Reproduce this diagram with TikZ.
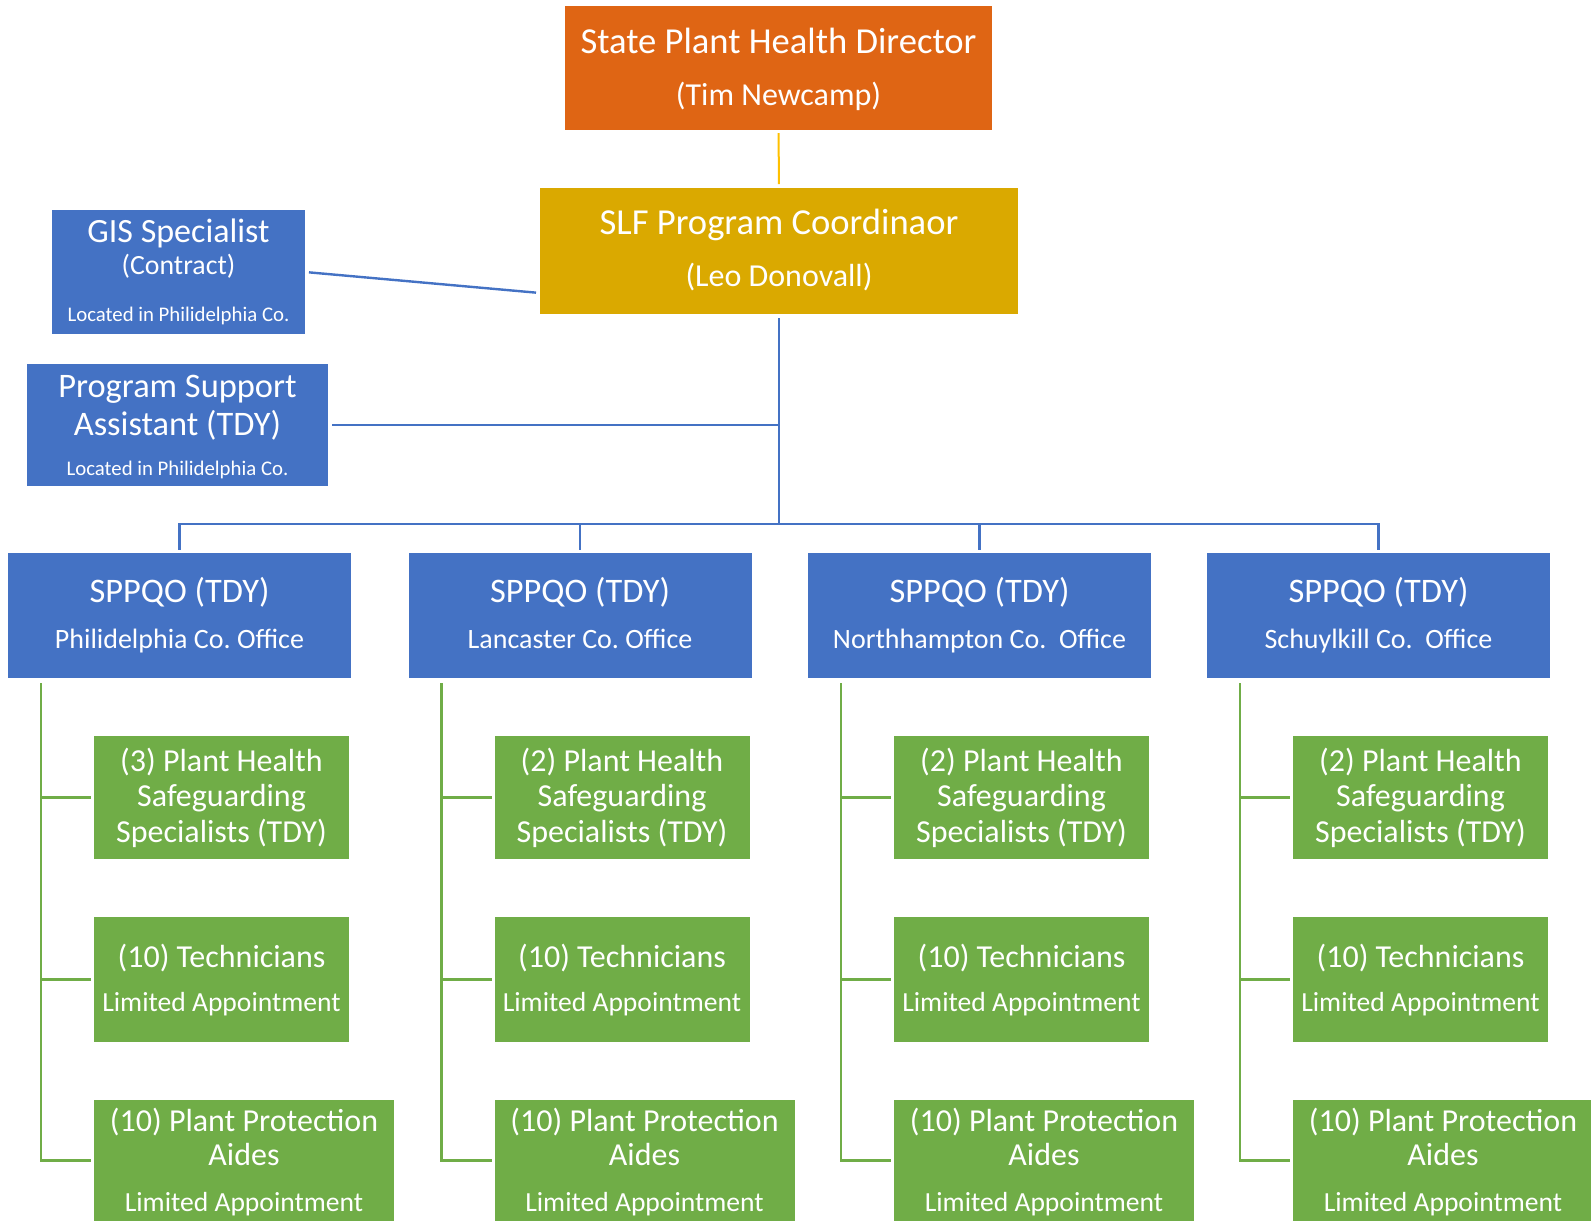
\documentclass[tikz,border=0pt]{standalone}
\usepackage{fontspec}
\setmainfont{Carlito}
\frenchspacing
\usetikzlibrary{positioning,calc}
\definecolor{dirorange}{HTML}{DF6514}
\definecolor{coordgold}{HTML}{DAA900}
\definecolor{lineyellow}{HTML}{FFC000}
\definecolor{officeblue}{HTML}{4472C4}
\definecolor{officegreen}{HTML}{70AD47}
\tikzset{
  box/.style={rectangle, inner sep=0pt, outer sep=0pt, draw=none},
  txt/.style={anchor=base, inner sep=0pt, text=white, font=\fontsize{#1}{#1}\selectfont},
  bline/.style={draw=officeblue, line width=1.2pt},
  gline/.style={draw=officegreen, line width=1.2pt},
  yline/.style={draw=lineyellow, line width=1pt},
}

\begin{document}
\begin{tikzpicture}[x=0.5pt,y=-0.5pt]
  \useasboundingbox (0,0) rectangle (1591,1221);
  % director and coordinator
  \node[box, fill=dirorange, minimum width=213.5pt, minimum height=62pt] (dir) at (778.5,68) {};
  \node[txt=18.3] (dir-a) at (778.5,53.5) {State Plant Health Director};
  \node[txt=16] (dir-b) at (778.5,105.5) {(Tim Newcamp)};

  \node[box, fill=coordgold, minimum width=239pt, minimum height=63pt] (coord) at (779,251) {};
  \node[txt=18.3] (coord-a) at (779,234) {SLF Program Coordinaor};
  \node[txt=16] (coord-b) at (779,286.5) {(Leo Donovall)};

  % staff on the left
  \node[box, fill=officeblue, minimum width=126.5pt, minimum height=62pt] (gis) at (178.5,272) {};
  \node[txt=17] (gis-a) at (178.5,242.5) {GIS Specialist};
  \node[txt=13.9] (gis-b) at (178.5,274.5) {(Contract)};
  \node[txt=10.4] (gis-c) at (178.5,321.5) {Located in Philidelphia Co.};

  \node[box, fill=officeblue, minimum width=150.5pt, minimum height=61pt] (psa) at (177.5,425) {};
  \node[txt=17.2] (psa-a) at (177.5,397) {Program Support};
  \node[txt=17.2] (psa-b) at (177.5,435.5) {Assistant (TDY)};
  \node[txt=10.4] (psa-c) at (177.5,475.5) {Located in Philidelphia Co.};

  \coordinate (bus) at (779,524);
  \draw[yline, shorten <=1.5pt, shorten >=2pt] (dir) -- (coord);
  \draw[bline, shorten <=2pt, shorten >=2pt] (gis.east) -- ([yshift=-21pt]coord.west);
  \draw[bline, shorten <=2pt] (coord.south) -- (bus);
  \draw[bline, shorten <=2pt] (psa.east) -- (psa.east -| bus);

  % one column per county office
  \foreach \col/\x/\n/\off in {A/8/3/Philidelphia Co. Office,
      B/408.5/2/Lancaster Co. Office,
      C/808/2/Northhampton Co.\ \ Office,
      D/1207/2/Schuylkill Co.\ \ Office}{
    \node[box, fill=officeblue, minimum width=171.5pt, minimum height=62.5pt] (sp\col) at ({\x+171.5},615.5) {};
    \node[txt=17.2] (sp\col-a) at ({\x+171.5},602) {SPPQO (TDY)};
    \node[txt=14] (sp\col-b) at ({\x+171.5},648) {\off};
    \draw[bline, shorten >=1.5pt] (bus) -| (sp\col.north);

    \node[box, fill=officegreen, minimum width=127.5pt, minimum height=61.5pt] (phs\col) at ({\x+213.5},797.5) {};
    \node[txt=16] (phs\col-a) at ({\x+213.5},771) {(\n) Plant Health};
    \node[txt=16] (phs\col-b) at ({\x+213.5},806.5) {Safeguarding};
    \node[txt=16] (phs\col-c) at ({\x+213.5},842) {Specialists (TDY)};

    \node[box, fill=officegreen, minimum width=127.5pt, minimum height=62.5pt] (tech\col) at ({\x+213.5},979.5) {};
    \node[txt=16] (tech\col-a) at ({\x+213.5},967) {(10) Technicians};
    \node[txt=13.8] (tech\col-b) at ({\x+213.5},1011.5) {Limited Appointment};

    \node[box, fill=officegreen, minimum width=150pt, minimum height=60.5pt] (ppa\col) at ({\x+236},1160.5) {};
    \node[txt=16] (ppa\col-a) at ({\x+236},1131) {(10) Plant Protection};
    \node[txt=16] (ppa\col-b) at ({\x+236},1165.5) {Aides};
    \node[txt=13.8] (ppa\col-c) at ({\x+236},1211) {Limited Appointment};

    \coordinate (gtop\col) at ([xshift=16.5pt,yshift=-2.5pt]sp\col.south west);
    \draw[gline, shorten >=1.5pt] (gtop\col) |- (ppa\col.west);
    \draw[gline, shorten >=1.5pt] (gtop\col |- phs\col.west) -- (phs\col.west);
    \draw[gline, shorten >=1.5pt] (gtop\col |- tech\col.west) -- (tech\col.west);
  }
\end{tikzpicture}
\end{document}
